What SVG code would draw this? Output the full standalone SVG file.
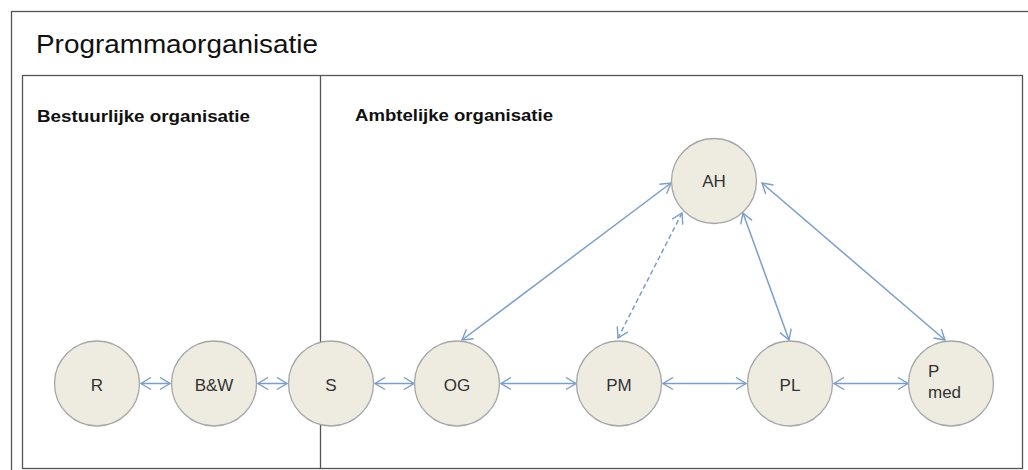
<svg xmlns="http://www.w3.org/2000/svg" width="1028" height="470" viewBox="0 0 1028 470">
<style>
.frame{fill:none;stroke:#555;stroke-width:1.3}
.node{fill:#EEECE1;stroke:#A6A6A6;stroke-width:1.3}
.lbl{font-family:"Liberation Sans",Arial,sans-serif;font-size:17px;fill:#333;text-anchor:middle}
.lbl.left{text-anchor:start}
.head{font-family:"Liberation Sans",Arial,sans-serif;font-weight:bold;fill:#111}
.title{font-family:"Liberation Sans",Arial,sans-serif;font-size:25px;fill:#111}
.conn{stroke:#7B9FCC;stroke-width:1.5;fill:none;marker-start:url(#ah);marker-end:url(#ah)}
.dash{stroke-dasharray:5 3}
</style>
<defs>
<marker id="ah" viewBox="0 0 12 14" refX="11" refY="7" markerWidth="12" markerHeight="14" markerUnits="userSpaceOnUse" orient="auto-start-reverse">
<path d="M1,1 L11,7 L1,13" fill="none" stroke="#7B9FCC" stroke-width="1.4"/>
</marker>
</defs>
<rect width="1028" height="470" fill="#fff"/>
<rect class="frame" x="11.5" y="11.5" width="1030" height="470"/>
<rect class="frame" x="22.5" y="75.5" width="1000" height="393"/>
<line class="frame" x1="320.5" y1="75.5" x2="320.5" y2="468.5"/>
<text class="title" x="36" y="53" textLength="282" lengthAdjust="spacingAndGlyphs">Programmaorganisatie</text>
<text class="head" x="37" y="122" font-size="17" textLength="213" lengthAdjust="spacingAndGlyphs">Bestuurlijke organisatie</text>
<text class="head" x="355" y="121" font-size="17" textLength="198" lengthAdjust="spacingAndGlyphs">Ambtelijke organisatie</text>
<g id="connectors">
<line class="conn" x1="141" y1="383.5" x2="170" y2="383.5"/>
<line class="conn" x1="258" y1="383.5" x2="287" y2="383.5"/>
<line class="conn" x1="375" y1="383.5" x2="414" y2="383.5"/>
<line class="conn" x1="501" y1="383.5" x2="576" y2="383.5"/>
<line class="conn" x1="663" y1="383.5" x2="746" y2="383.5"/>
<line class="conn" x1="834" y1="383.5" x2="908" y2="383.5"/>
<line class="conn" x1="671" y1="183" x2="462" y2="340"/>
<line class="conn dash" x1="682" y1="213" x2="618" y2="338"/>
<line class="conn" x1="743" y1="213" x2="789" y2="340"/>
<line class="conn" x1="762" y1="183" x2="945" y2="340"/>
</g>
<g id="node-R"><circle class="node" cx="97" cy="383.5" r="42.5"/><text class="lbl" x="97" y="391">R</text></g>
<g id="node-BW"><circle class="node" cx="214" cy="383.5" r="42.5"/><text class="lbl" x="214" y="391">B&amp;W</text></g>
<g id="node-S"><circle class="node" cx="331" cy="383.5" r="42.5"/><text class="lbl" x="331" y="391">S</text></g>
<g id="node-OG"><circle class="node" cx="457" cy="383.5" r="42.5"/><text class="lbl" x="457" y="391">OG</text></g>
<g id="node-PM"><circle class="node" cx="619" cy="383.5" r="42.5"/><text class="lbl" x="619" y="391">PM</text></g>
<g id="node-PL"><circle class="node" cx="790" cy="383.5" r="42.5"/><text class="lbl" x="790" y="391">PL</text></g>
<g id="node-Pmed"><circle class="node" cx="951" cy="383.5" r="42.5"/><text class="lbl left" x="928" y="377">P</text><text class="lbl left" x="928" y="398">med</text></g>
<g id="node-AH"><circle class="node" cx="714" cy="181" r="42.5"/><text class="lbl" x="714" y="187">AH</text></g>
</svg>
